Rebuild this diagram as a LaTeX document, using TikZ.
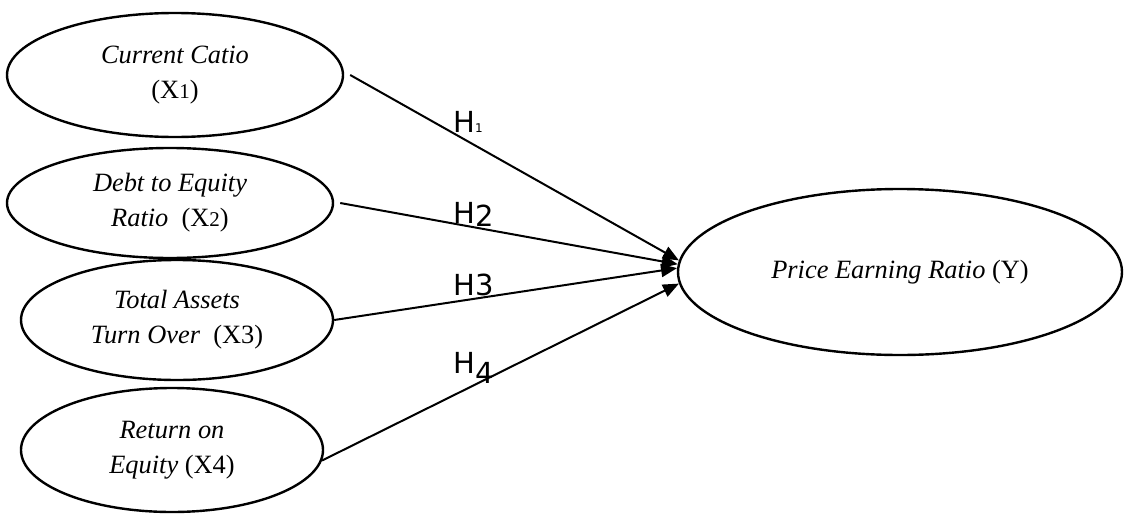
\documentclass[tikz,border=0pt]{standalone}
\usepackage{fontspec}
\setmainfont{Liberation Serif}
\newfontfamily\hfont{DejaVu Sans}
\usetikzlibrary{shapes.geometric,arrows.meta}

\begin{document}
\begin{tikzpicture}[x=0.5pt,y=-0.5pt,
  var/.style={draw, ellipse, line width=1.2pt, inner sep=0pt, align=center,
    font=\fontsize{13.2}{17.5}\selectfont},
  link/.style={line width=1pt, -{Triangle[length=8pt,width=6.5pt]}},
  hyp/.style={font=\hfont\fontsize{14.5}{16}\selectfont, inner sep=0pt, anchor=base west}]
\useasboundingbox (0,0) rectangle (1124,514);
% independent variables
\node[var, minimum width=168pt, minimum height=62pt] (x1) at (175,75)
  {\textit{Current Catio}\\(X{\fontsize{10.5}{12}\selectfont 1})};
\node[var, minimum width=163pt, minimum height=55pt] (x2) at (170,203)
  {\textit{Debt to Equity}\\\textit{Ratio}\ \ (X{\fontsize{10.5}{12}\selectfont 2})};
\node[var, minimum width=156pt, minimum height=60pt] (x3) at (177,320)
  {\textit{Total Assets}\\\textit{Turn Over}\ \ (X3)};
\node[var, minimum width=151pt, minimum height=62pt] (x4) at (172,450)
  {\textit{Return on}\\\textit{Equity} (X4)};
% dependent variable
\node[var, minimum width=222pt, minimum height=83pt] (y) at (900,272)
  {\textit{Price Earning Ratio} (Y)};
% hypotheses
\draw[link] ([xshift=3pt]x1.east) -- (y.177.5);
\draw[link] ([xshift=3pt]x2.east) -- (y.178);
\draw[link] (x3.east) -- (y.179.5);
\draw[link] (x4.-4) -- (y.183.5);
\node[hyp] (h1) at (453,132) {H{\fontsize{6}{7}\selectfont 1}};
\node[hyp] (h2) at (453,223) {H\raisebox{-1.5pt}{2}};
\node[hyp] (h3) at (453,295) {H3};
\node[hyp] (h4) at (453,373) {H\raisebox{-5pt}{4}};
\end{tikzpicture}
\end{document}
